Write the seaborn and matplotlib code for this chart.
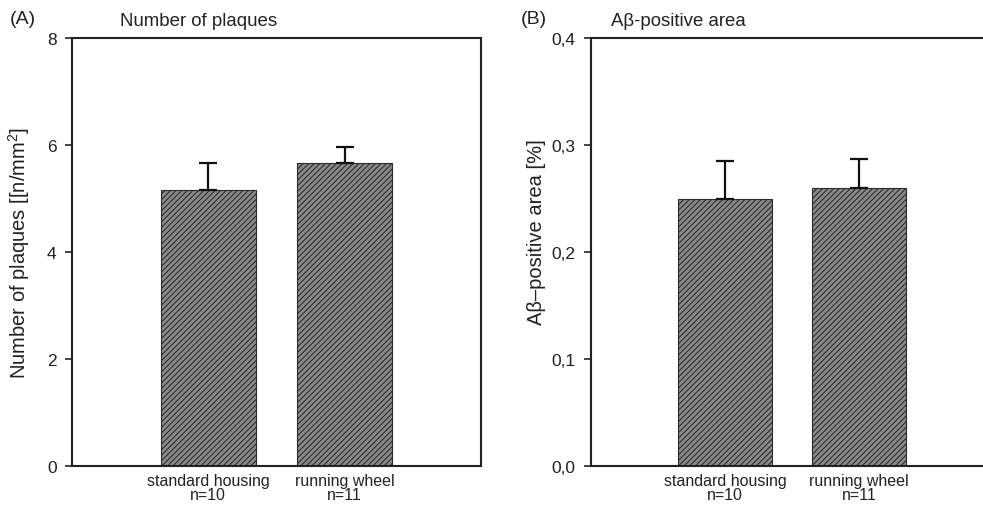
import matplotlib
matplotlib.use("Agg")
import matplotlib.pyplot as plt
import seaborn as sns
import pandas as pd
from matplotlib.ticker import FuncFormatter, MultipleLocator

sns.set_theme(style="white")
plt.rcParams['font.family'] = ['Liberation Sans', 'DejaVu Sans']
plt.rcParams['mathtext.fontset'] = 'custom'
plt.rcParams['mathtext.rm'] = 'Liberation Sans'
plt.rcParams['mathtext.it'] = 'Liberation Sans'
plt.rcParams['hatch.linewidth'] = 0.8

groups = ["standard housing\nn=10", "running wheel\nn=11"]
plaques_mean = [5.16, 5.66]
plaques_sem = [0.50, 0.30]
area_mean = [0.250, 0.260]
area_sem = [0.035, 0.027]

W, H = 983, 506
fig = plt.figure(figsize=(W / 100, H / 100), dpi=100)
fig.patch.set_facecolor("white")

def px_axes(l, r, t, b):
    return fig.add_axes([l / W, 1 - b / H, (r - l) / W, (b - t) / H])

axA = px_axes(72, 481, 39, 467)
axB = px_axes(591, 993, 39, 467)

face = "#8a8a8a"
edge = "#2b2b2b"
txt = "#222222"

def panel(ax, means, sems, ymax, ystep, fmt, ylabel, label_xy):
    df = pd.DataFrame({"group": groups, "value": means})
    sns.barplot(data=df, x="group", y="value", ax=ax, color=face, width=0.7,
                saturation=1, edgecolor=edge, linewidth=0.8)
    for p in ax.patches:
        p.set_hatch("//////")
        p.set_facecolor(face)
        p.set_edgecolor(edge)
    ax.errorbar(range(len(means)), means, yerr=[[0] * len(means), sems],
                fmt="none", ecolor="#111111", elinewidth=1.6, capsize=6.5,
                capthick=1.6)
    ax.set_xlim(-1, 2)
    ax.set_ylim(0, ymax)
    ax.yaxis.set_major_locator(MultipleLocator(ystep))
    ax.yaxis.set_major_formatter(FuncFormatter(fmt))
    ax.set_xlabel("")
    ax.set_ylabel(ylabel, fontsize=14.5, color=txt)
    ax.yaxis.set_label_coords(*label_xy)
    for s in ax.spines.values():
        s.set_color(txt)
        s.set_linewidth(1.5)
    ax.tick_params(axis="y", left=True, length=5, width=1.2, color=txt,
                   labelsize=12.5, labelcolor=txt, pad=6, direction="out")
    ax.tick_params(axis="x", bottom=False, length=0, labelsize=11.5,
                   labelcolor=txt, pad=5)
    for lbl in ax.get_xticklabels():
        lbl.set_linespacing(0.95)
    ax.set_facecolor("white")

panel(axA, plaques_mean, plaques_sem, 8, 2, lambda v, p: f"{v:.0f}",
      r"Number of plaques [[n/mm$^2$]", (-0.097, 0.5))
panel(axB, area_mean, area_sem, 0.4, 0.1,
      lambda v, p: f"{v:.1f}".replace(".", ","),
      "A\u03b2\u2013positive area [%]", (-0.112, 0.549))
axB.spines["right"].set_visible(False)

fig.text(10 / W, 1 - 20 / H, "(A)", fontsize=14, va="center", ha="left", color=txt)
fig.text(120 / W, 1 - 21 / H, "Number of plaques", fontsize=13.4, va="center", ha="left", color=txt)
fig.text(521 / W, 1 - 20 / H, "(B)", fontsize=14, va="center", ha="left", color=txt)
fig.text(611 / W, 1 - 21 / H, "A\u03b2-positive area", fontsize=13.4, va="center", ha="left", color=txt)

fig.savefig("out.png", dpi=100, facecolor="white")
